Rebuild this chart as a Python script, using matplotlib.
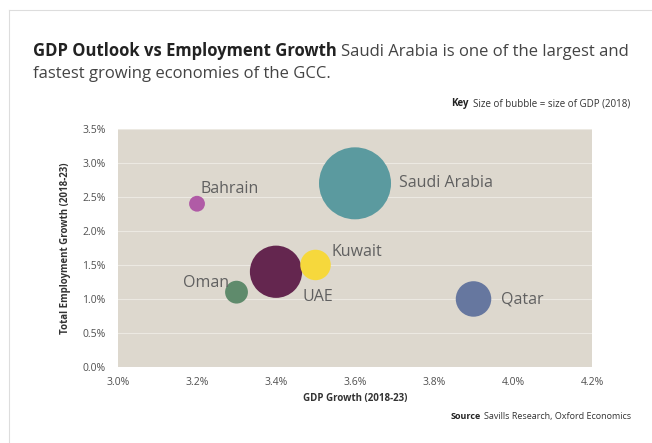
import matplotlib.pyplot as plt
from matplotlib.lines import Line2D
from matplotlib.ticker import FuncFormatter, MultipleLocator

# Data
countries = ['Saudi Arabia', 'UAE', 'Qatar', 'Kuwait', 'Oman', 'Bahrain']
gdp_growth = [3.6, 3.4, 3.9, 3.5, 3.3, 3.2]
emp_growth = [2.7, 1.4, 1.0, 1.5, 1.1, 2.4]
gdp_size = [786, 414, 191, 141, 79, 38]  # GDP 2018, USD bn
colors = ['#5b9a9f', '#64264f', '#66779f', '#f6d83c', '#5f8b6c', '#b05ba6']
# label offsets in pixels (dx, dy, ha)
label_pos = {
    'Saudi Arabia': (44, 0, 'left'),
    'UAE': (26, -25, 'left'),
    'Qatar': (27, -1, 'left'),
    'Kuwait': (16, 13, 'left'),
    'Oman': (-8, 9, 'right'),
    'Bahrain': (3, 15, 'left'),
}

plt.rcParams['font.family'] = ['Open Sans', 'DejaVu Sans']

fig = plt.figure(figsize=(6.52, 4.43), dpi=100)
ax = fig.add_axes([0.181, 0.1716, 0.727, 0.5374])
ax.set_facecolor('#ddd8ce')

ax.scatter(gdp_growth, emp_growth, s=[g * 3.42 for g in gdp_size],
           c=colors, linewidths=0, zorder=3)

for name, x, y in zip(countries, gdp_growth, emp_growth):
    dx, dy, ha = label_pos[name]
    ax.annotate(name, (x, y), xytext=(dx, dy), textcoords='offset pixels',
                ha=ha, va='center', fontsize=11.5, color='#606060', zorder=4)

ax.set_xlim(3.0, 4.2)
ax.set_ylim(0.0, 3.5)
ax.xaxis.set_major_locator(MultipleLocator(0.2))
ax.yaxis.set_major_locator(MultipleLocator(0.5))
ax.xaxis.set_major_formatter(FuncFormatter(lambda v, p: '{:.1f}%'.format(v)))
ax.yaxis.set_major_formatter(FuncFormatter(lambda v, p: '{:.1f}%'.format(v)))
ax.tick_params(length=0, labelsize=7.5, colors='#505050')
ax.tick_params(axis='x', pad=7)
ax.tick_params(axis='y', pad=9)
ax.grid(axis='y', color='#ece9e2', linewidth=0.8, zorder=0)
ax.set_axisbelow(True)
for s in ax.spines.values():
    s.set_visible(False)

ax.set_xlabel('GDP Growth (2018-23)', fontsize=7, fontweight='bold',
              color='#333333', labelpad=4)
ax.set_ylabel('Total Employment Growth (2018-23)', fontsize=7,
              fontweight='bold', color='#333333', labelpad=8)

# frame lines
fig.add_artist(Line2D([9 / 652, 9 / 652], [0, 1 - 10 / 443],
                      color='#dddddd', linewidth=0.8))
fig.add_artist(Line2D([9 / 652, 1], [1 - 10 / 443, 1 - 10 / 443],
                      color='#dddddd', linewidth=0.8))

# title
t1 = fig.text(33 / 652, 1 - 56 / 443, 'GDP Outlook vs Employment Growth',
              fontsize=12, fontweight='bold', color='#222222', va='baseline')
fig.canvas.draw()
w = t1.get_window_extent().width / fig.bbox.width
fig.text(33 / 652 + w + 0.006, 1 - 56 / 443,
         'Saudi Arabia is one of the largest and', fontsize=12,
         color='#444444', va='baseline')
fig.text(33 / 652, 1 - 78 / 443, 'fastest growing economies of the GCC.',
         fontsize=12, color='#444444', va='baseline')

# key
k2 = fig.text(630 / 652, 1 - 106 / 443, 'Size of bubble = size of GDP (2018)',
              fontsize=7, color='#333333', ha='right', va='baseline')
fig.canvas.draw()
kx = k2.get_window_extent().x0 / fig.bbox.width
fig.text(kx - 0.006, 1 - 106 / 443, 'Key', fontsize=7, fontweight='bold',
         color='#222222', ha='right', va='baseline')

# source
s2 = fig.text(631 / 652, 1 - 419 / 443, 'Savills Research, Oxford Economics',
              fontsize=6.5, color='#333333', ha='right', va='baseline')
fig.canvas.draw()
sx = s2.get_window_extent().x0 / fig.bbox.width
fig.text(sx - 0.005, 1 - 419 / 443, 'Source', fontsize=6.5, fontweight='bold',
         color='#222222', ha='right', va='baseline')

fig.savefig('out.png', dpi=100, facecolor='white')
